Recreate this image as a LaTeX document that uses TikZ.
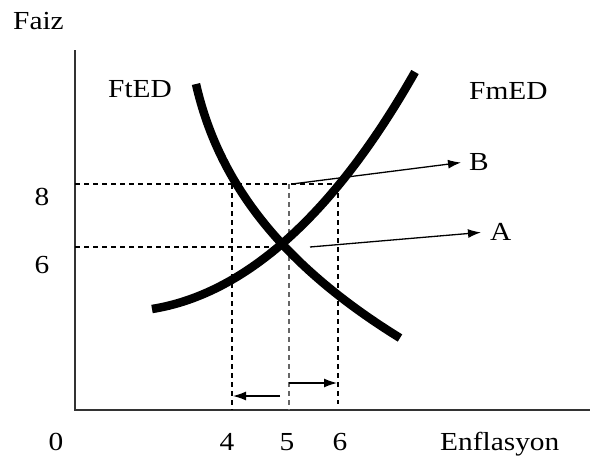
\documentclass[tikz,border=0pt]{standalone}
\usepackage{fontspec}
\setmainfont{Liberation Serif}[FakeStretch=1.13]
\usetikzlibrary{arrows.meta}
\begin{document}
\begin{tikzpicture}[x=1pt,y=-1pt,
  lbl/.style={inner sep=0pt,anchor=base,font=\fontsize{26}{30}\selectfont},
  axis/.style={line width=2pt,draw=black!80},
  guide/.style={line width=1.1pt,dash pattern=on 5pt off 4pt},
  curve/.style={line width=8.5pt,line cap=butt},
  pointer/.style={line width=1.3pt,-{Latex[length=13pt,width=9pt]}}]
\useasboundingbox (0,0) rectangle (590,458);
% axes
\coordinate (ytop) at (75,50);
\coordinate (O) at (75,410);
\coordinate (xend) at (590,410);
\draw[axis] (ytop) -- (O) -- (xend);
% guide lines
\coordinate (y8) at (75,184);
\coordinate (y6) at (75,247);
\coordinate (b8) at (338,184);
\coordinate (e6) at (283,247);
\coordinate (t4) at (232,184);
\coordinate (t5) at (289,184);
\coordinate (t6) at (338,184);
\coordinate (f4) at (232,410);
\coordinate (f5) at (289,410);
\coordinate (f6) at (338,404);
\draw[guide] (y8) -- (b8);
\draw[guide] (y6) -- (e6);
\draw[guide] (t4) -- (f4);
\draw[guide,draw=black!60,line width=1.7pt] (t5) -- (f5);
\draw[guide] (t6) -- (f6);
% curves
\coordinate (dA) at (196,84);
\coordinate (dB) at (400,338);
\coordinate (sA) at (152,309);
\coordinate (sB) at (415,72);
\draw[curve] (dA) .. controls (220,190) and (290,270) .. (dB);
\draw[curve] (sA) .. controls (240,295) and (330,222) .. (sB);
% labels
\node[lbl,anchor=base west] (faiz) at (13,29) {Faiz};
\node[lbl,anchor=base west] (fted) at (108,97) {FtED};
\node[lbl,anchor=base west] (fmed) at (469,99) {FmED};
\node[lbl,anchor=base west] (B) at (469,170) {B};
\node[lbl,anchor=base west] (A) at (490,240) {A};
\node[lbl] (n8) at (42,205) {8};
\node[lbl] (n6) at (42,273) {6};
\node[lbl] (n0) at (56,450) {0};
\node[lbl] (n4) at (227,450) {4};
\node[lbl] (n5) at (287,450) {5};
\node[lbl] (n6x) at (340,450) {6};
\node[lbl,anchor=base west] (enf) at (440,450) {Enflasyon};
% pointers
\coordinate (pB) at (292,184);
\coordinate (pA) at (310,247);
\draw[pointer] (pB) -- ([xshift=-8pt,yshift=-1pt]B.west);
\draw[pointer] (pA) -- ([xshift=-9pt,yshift=-1pt]A.west);
\coordinate (l1) at (280,396);
\coordinate (l2) at (233,396);
\coordinate (r1) at (289,383);
\coordinate (r2) at (337,383);
\draw[pointer] (l1) -- (l2);
\draw[pointer] (r1) -- (r2);
\end{tikzpicture}
\end{document}
